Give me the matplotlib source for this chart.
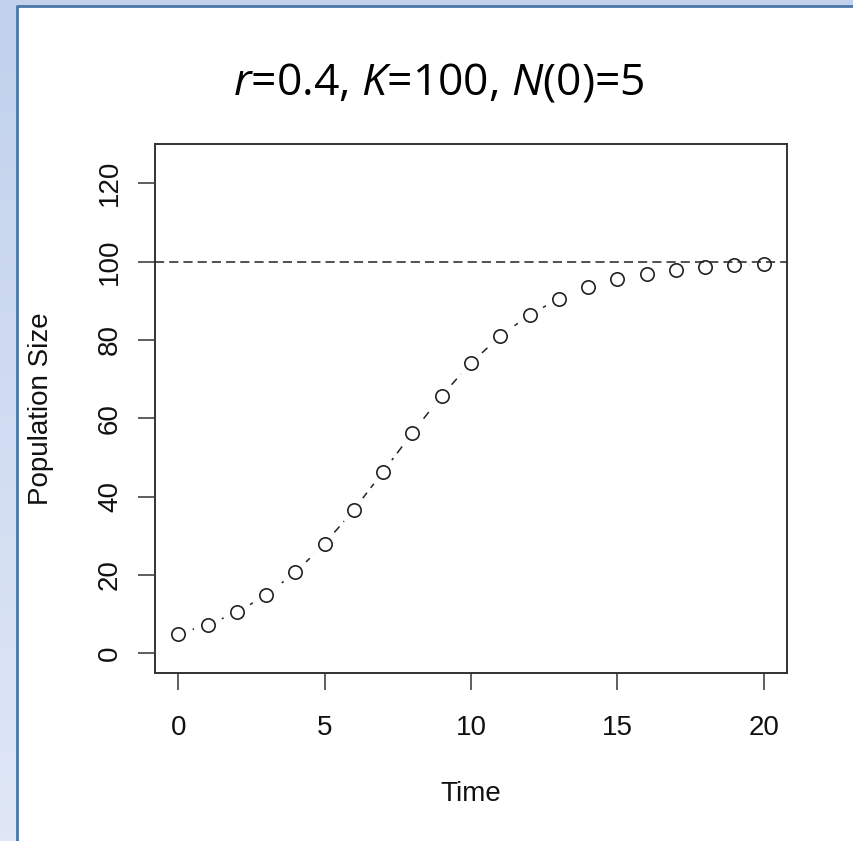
import numpy as np
import matplotlib
matplotlib.use("Agg")
import matplotlib.pyplot as plt

# ---- data ----
time = [0, 1, 2, 3, 4, 5, 6, 7, 8, 9, 10, 11, 12, 13, 14, 15, 16, 17, 18, 19, 20]
population = [5.0, 7.3, 10.5, 14.9, 20.7, 28.0, 36.7, 46.4, 56.3, 65.8, 74.1,
              81.0, 86.4, 90.5, 93.4, 95.5, 96.9, 97.9, 98.5, 99.0, 99.3]
carrying_capacity = 100
x_ticks = [0, 5, 10, 15, 20]
y_ticks = [0, 20, 40, 60, 80, 100, 120]
title_text = "$r$=0.4, $K$=100, $N$(0)=5"
x_label = "Time"
y_label = "Population Size"

W, H, DPI = 854, 841, 100
plt.rcParams['font.family'] = ['Liberation Sans', 'DejaVu Sans']
plt.rcParams['mathtext.fontset'] = 'custom'
plt.rcParams['mathtext.it'] = 'Open Sans:italic'
plt.rcParams['mathtext.rm'] = 'Open Sans'

fig = plt.figure(figsize=(W / DPI, H / DPI), dpi=DPI)
fig.patch.set_facecolor('white')

# ---- slide background ----
bg = fig.add_axes([0, 0, 1, 1], zorder=-10)
bg.set_xlim(0, W)
bg.set_ylim(H, 0)
bg.axis('off')
top_c = np.array([0.757, 0.820, 0.925])
bot_c = np.array([0.875, 0.906, 0.965])
grad = np.linspace(0, 1, 256)[:, None, None] * (bot_c - top_c) + top_c
bg.imshow(grad, extent=[0, 17, H, 0], aspect='auto', zorder=0)
bg.add_patch(plt.Rectangle((0, 0), W, 5.5, color=top_c, lw=0, zorder=1))
bg.add_patch(plt.Rectangle((17, 6), W, H, color='white', lw=0, zorder=2))
bg.plot([16.9, W], [6.0, 6.0], color='#4a76a9', lw=2.0, solid_capstyle='butt', zorder=3)
bg.plot([16.9, 16.9], [5.0, H], color='#4a76a9', lw=2.0, solid_capstyle='butt', zorder=3)

# ---- main plot ----
L, T, R, B = 155, 144, 787, 673
ax = fig.add_axes([L / W, 1 - B / H, (R - L) / W, (B - T) / H])
ax.set_facecolor('white')

ax.plot(time, population, color='#222222', lw=1.1, ls=(0, (5.5, 4)), zorder=2)
ax.plot(time, population, ls='none', marker='o', ms=21.5, mfc='white', mec='none', zorder=3)
ax.plot(time, population, ls='none', marker='o', ms=9.6, mfc='none', mec='#222222',
        mew=1.2, zorder=4)
ax.axhline(carrying_capacity, color='#222222', lw=1.1, ls=(0, (6, 3.3)), zorder=5)

ax.set_xlim(-0.8, 20.8)
ax.set_ylim(-5, 130)
ax.set_xticks(x_ticks)
ax.set_yticks(y_ticks)
ax.set_xticklabels([str(v) for v in x_ticks])
ax.set_yticklabels([str(v) for v in y_ticks])
ax.tick_params(axis='both', direction='out', length=12, width=1.1, color='#333333',
               labelsize=20, labelcolor='#111111')
ax.tick_params(axis='x', pad=18)
ax.tick_params(axis='y', pad=11)
for lab in ax.get_yticklabels():
    lab.set_rotation(90)
    lab.set_va('center')
    lab.set_ha('right')
for s in ax.spines.values():
    s.set_color('#333333')
    s.set_linewidth(1.4)

ax.set_xlabel(x_label, fontsize=20, labelpad=29, color='#111111')
ax.set_ylabel(y_label, fontsize=20, labelpad=31, color='#111111')

fig.text(439 / W, 1 - 83 / H, title_text, fontsize=32, ha='center', va='center',
         family='Open Sans', color='black')

fig.savefig('out.png', dpi=DPI)
